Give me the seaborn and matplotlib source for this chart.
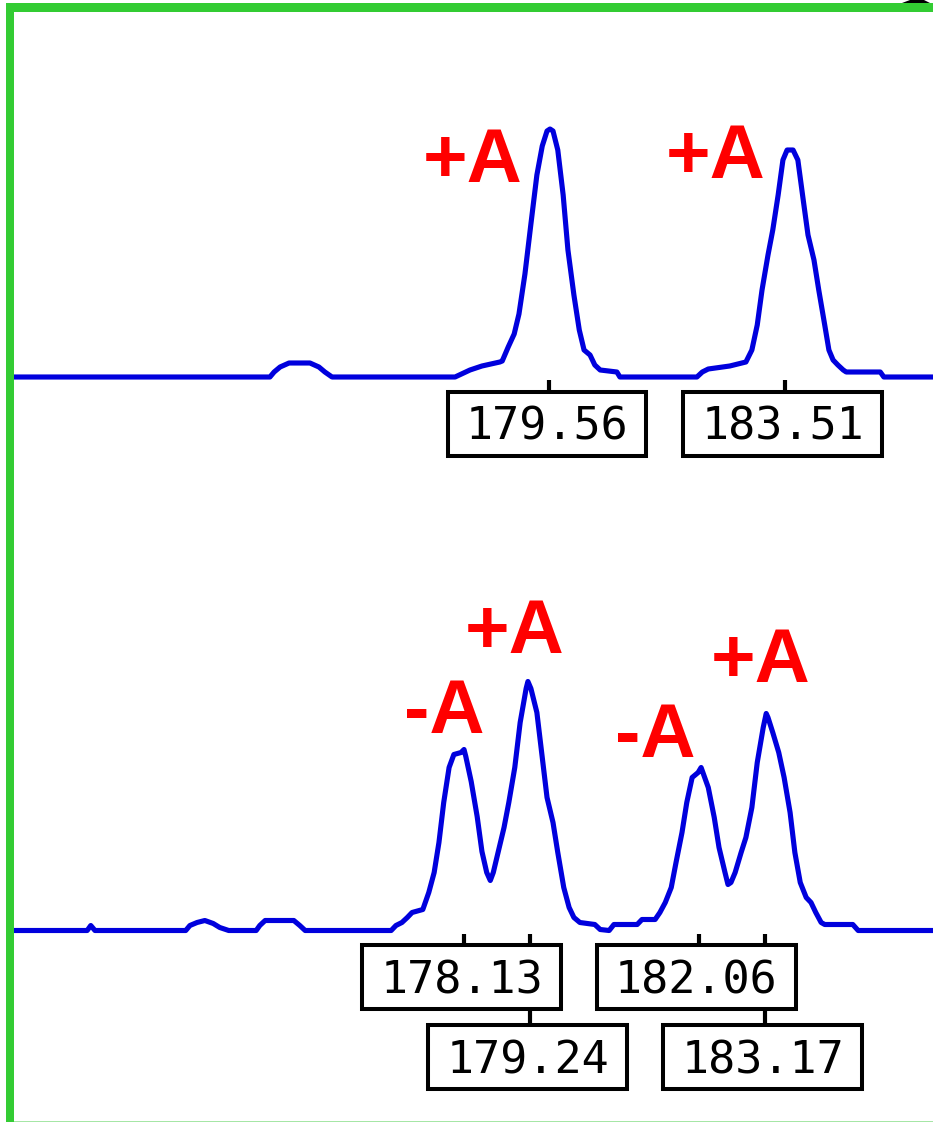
import matplotlib
matplotlib.use("Agg")
import matplotlib.pyplot as plt
import seaborn as sns
import pandas as pd
from matplotlib.patches import Rectangle, Polygon

# ---------------- data (size in bp, signal height) ----------------
top_bp = [170.59, 174.88, 174.95, 175.05, 175.20, 175.55, 175.70, 175.80, 175.92, 177.98,
          178.23, 178.43, 178.73, 178.77, 178.87, 178.97, 179.05, 179.15, 179.25, 179.35,
          179.44, 179.52, 179.57, 179.62, 179.70, 179.79, 179.87, 179.97, 180.06, 180.14,
          180.24, 180.32, 180.41, 180.69, 180.74, 182.03, 182.12, 182.22, 182.58, 182.85,
          182.95, 183.04, 183.12, 183.22, 183.30, 183.39, 183.47, 183.54, 183.64, 183.72,
          183.81, 183.89, 183.99, 184.07, 184.17, 184.24, 184.31, 184.39, 184.48, 184.53,
          185.10, 185.16, 185.98]
top_rfu = [0, 0, 5, 10, 14, 14, 10, 5, 0, 0,
           7, 11, 15, 16, 30, 43, 63, 103, 153, 202,
           231, 246, 248, 246, 227, 182, 127, 82, 47, 27,
           22, 12, 7, 5, 0, 0, 5, 8, 11, 15,
           27, 52, 87, 122, 147, 182, 217, 227, 227, 217,
           177, 142, 117, 87, 52, 27, 17, 12, 7, 5,
           5, 0, 0]

bot_bp = [170.59, 171.82, 171.88, 171.95, 173.47, 173.54, 173.66, 173.79, 173.93, 174.04,
          174.19, 174.65, 174.71, 174.80, 175.28, 175.38, 175.47, 176.91, 176.99, 177.09,
          177.18, 177.26, 177.44, 177.54, 177.63, 177.71, 177.79, 177.88, 177.96, 178.08,
          178.13, 178.16, 178.25, 178.35, 178.43, 178.51, 178.57, 178.62, 178.70, 178.80,
          178.88, 178.98, 179.07, 179.17, 179.20, 179.25, 179.35, 179.44, 179.52, 179.62,
          179.70, 179.80, 179.89, 179.97, 180.07, 180.32, 180.41, 180.56, 180.64, 181.03,
          181.11, 181.33, 181.41, 181.50, 181.60, 181.68, 181.78, 181.86, 181.95, 182.05,
          182.10, 182.13, 182.22, 182.32, 182.40, 182.50, 182.55, 182.60, 182.67, 182.77,
          182.85, 182.95, 183.04, 183.14, 183.19, 183.22, 183.30, 183.40, 183.49, 183.59,
          183.67, 183.76, 183.86, 183.94, 184.02, 184.11, 184.17, 184.64, 184.73, 185.98]
bot_rfu = [0, 0, 5, 0, 0, 5, 8, 10, 7, 3,
           0, 0, 5, 10, 10, 5, 0, 0, 5, 8,
           13, 18, 21, 38, 58, 88, 128, 163, 176, 178,
           181, 174, 149, 114, 79, 58, 50, 58, 78, 103,
           128, 163, 208, 242, 249, 242, 218, 173, 133, 108,
           78, 43, 23, 13, 8, 6, 1, 0, 6, 6,
           11, 11, 18, 28, 43, 68, 98, 128, 153, 158,
           163, 158, 143, 113, 83, 58, 46, 48, 58, 78,
           93, 123, 168, 203, 217, 213, 198, 178, 153, 118,
           78, 48, 33, 28, 18, 8, 6, 6, 0, 0]

# peak size calls
top_sizes = [179.56, 183.51]
bot_sizes_row1 = [178.13, 182.06]
bot_sizes_row2 = [179.24, 183.17]

# allele annotations
top_ann_text = ["+A", "+A"]
top_ann_bp = [178.27, 182.34]
top_ann_rfu = [195, 199]
bot_ann_text = ["-A", "+A", "-A", "+A"]
bot_ann_bp = [177.80, 178.98, 181.33, 183.09]
bot_ann_rfu = [197.5, 277.5, 173.5, 248.5]

# ---------------- style ----------------
BLUE = "#0000dd"
GREEN = "#33cc33"
RED = "#ff0000"
XLIM = (170.36, 185.983)
BOX_W = 3.33
BOX_H = 64
BOX_DX = -0.04
ROW1_C = -46.5
ROW2_C = -126.5
TICK_TOP = -3
TEXT_DROP = 16

sns.set_theme(style="white")
plt.rcParams["font.family"] = ["DejaVu Sans"]

fig = plt.figure(figsize=(9.33, 11.22), dpi=100)
fig.patch.set_facecolor("white")
ax_top = fig.add_axes([0, 0.5, 1, 0.5])
ax_bot = fig.add_axes([0, 0.0, 1, 0.5])

df_top = pd.DataFrame({"bp": top_bp, "rfu": top_rfu})
df_bot = pd.DataFrame({"bp": bot_bp, "rfu": bot_rfu})

for ax, df in ((ax_top, df_top), (ax_bot, df_bot)):
    sns.lineplot(data=df, x="bp", y="rfu", ax=ax, color=BLUE, linewidth=3.7,
                 sort=False, estimator=None, legend=False)
    ax.set_xlim(*XLIM)
    ax.set_axis_off()
    ax.patch.set_alpha(0)

ax_top.set_ylim(-184, 377)
ax_bot.set_ylim(-191.5, 369.5)


def size_box(ax, xc, yc, label):
    xb = xc + BOX_DX
    ax.add_patch(Rectangle((xb - BOX_W / 2, yc - BOX_H / 2), BOX_W, BOX_H,
                           facecolor="white", edgecolor="black", linewidth=2.9,
                           joinstyle="miter", zorder=3))
    ax.text(xb, yc - TEXT_DROP, label, ha="center", va="baseline",
            family="DejaVu Sans Mono", fontsize=32.5, color="black", zorder=4)


def vline(ax, x, y0, y1):
    ax.plot([x, x], [y0, y1], color="black", linewidth=3.0,
            solid_capstyle="butt", zorder=2)


# top panel size calls
for s in top_sizes:
    vline(ax_top, s, TICK_TOP, ROW1_C + BOX_H / 2)
    size_box(ax_top, s, ROW1_C, f"{s:.2f}")

# bottom panel size calls (two rows)
for s1, s2 in zip(bot_sizes_row1, bot_sizes_row2):
    vline(ax_bot, s1, TICK_TOP, ROW1_C + BOX_H / 2)
    vline(ax_bot, s2, TICK_TOP, ROW1_C + BOX_H / 2)
    vline(ax_bot, s2, ROW1_C - BOX_H / 2, ROW2_C + BOX_H / 2)
    size_box(ax_bot, s1, ROW1_C, f"{s1:.2f}")
    size_box(ax_bot, s2, ROW2_C, f"{s2:.2f}")

# red annotations
for t, x, y in zip(top_ann_text, top_ann_bp, top_ann_rfu):
    ax_top.text(x, y, t, ha="center", va="baseline", color=RED,
                family="Liberation Sans", fontweight="bold", fontsize=55, zorder=5)
for t, x, y in zip(bot_ann_text, bot_ann_bp, bot_ann_rfu):
    ax_bot.text(x, y, t, ha="center", va="baseline", color=RED,
                family="Liberation Sans", fontweight="bold", fontsize=55, zorder=5)

# green frame (left and top) plus faint bottom line
W, H = 933.0, 1122.0
fig.add_artist(Rectangle((6 / W, 0), 8 / W, 1 - 3 / H, transform=fig.transFigure,
                         facecolor=GREEN, edgecolor="none", zorder=10))
fig.add_artist(Rectangle((6 / W, 1 - 11.5 / H), 1, 8.5 / H, transform=fig.transFigure,
                         facecolor=GREEN, edgecolor="none", zorder=10))
fig.add_artist(Rectangle((14 / W, 0), 1, 1.5 / H, transform=fig.transFigure,
                         facecolor="#a6e6a6", edgecolor="none", zorder=10))
fig.add_artist(Polygon([(902 / W, 1 - 3 / H), (910 / W, 1.0), (924 / W, 1.0),
                        (930 / W, 1 - 3 / H)], closed=True, transform=fig.transFigure,
                       facecolor="black", edgecolor="none", zorder=11))

fig.savefig("out.png", dpi=100, facecolor="white")
